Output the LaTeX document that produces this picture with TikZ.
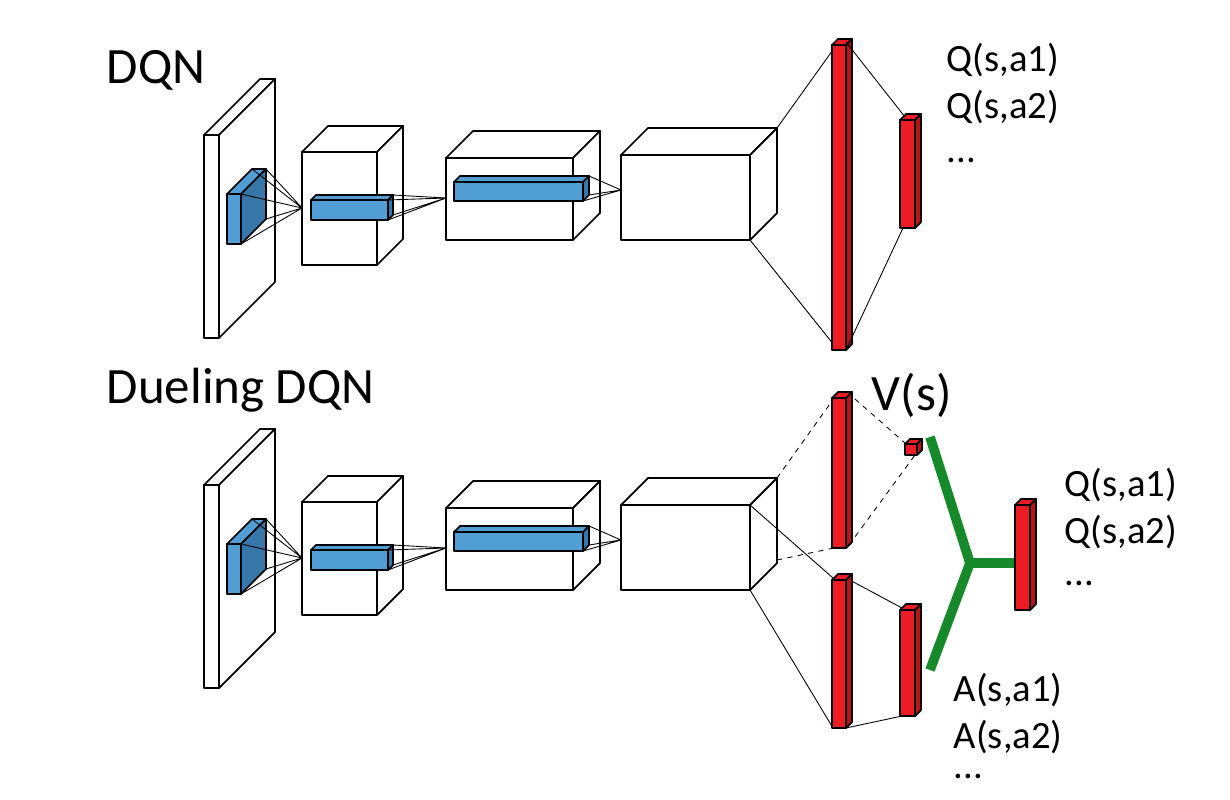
\documentclass[tikz,border=0pt]{standalone}
\usepackage{fontspec}
\setmainfont{Carlito}
\definecolor{bl}{RGB}{80,158,212}\definecolor{blD}{RGB}{55,118,168}
\definecolor{rd}{RGB}{236,28,36}\definecolor{rdD}{RGB}{185,20,26}
\definecolor{gr}{RGB}{22,138,42}
\newcommand\cub[7]{%
\filldraw[fill=#6] (#1,#2) rectangle ++(#3,#4);
\filldraw[fill=#6] (#1,#2)--++(#5,-#5)--++(#3,0)--++(-#5,#5)--cycle;
\filldraw[fill=#7] ({#1+#3},#2)--++(#5,-#5)--++(0,#4)--++(-#5,#5)--cycle;}
\begin{document}
\begin{tikzpicture}[x=0.02cm,y=-0.02cm,line width=1pt,line join=round,
 thin/.style={line width=0.5pt},
 lbl/.style={anchor=west,inner sep=0,font=\fontsize{22}{26}\selectfont},
 big/.style={anchor=west,inner sep=0,font=\fontsize{29}{34}\selectfont},
 gl/.style={gr,line width=5.5pt}]
\useasboundingbox (0,0) rectangle (1230,800);
\foreach \s in {0,350}{
\begin{scope}[yshift=-\s*0.02cm]
\cub{204}{135}{15}{203}{56}{white}{white}
\cub{302}{152}{75}{113}{26}{white}{white}
\cub{446}{158}{127}{82}{27}{white}{white}
\cub{621}{155}{129}{85}{27}{white}{white}
\cub{227}{194}{14}{50}{25}{bl}{blD}
\draw[thin] (252,169)--(302,208) (266,169)--(302,208) (266,219)--(302,208) (241,244)--(302,208) (241,194)--(302,208);
\cub{311}{200}{77}{20}{5}{bl}{blD}
\draw[thin] (393,195)--(446,198) (393,215)--(446,198) (388,220)--(446,198) (388,200)--(446,198);
\cub{454}{182}{129}{19}{6}{bl}{blD}
\draw[thin] (589,176)--(621,190) (589,195)--(621,190) (583,201)--(621,190);
\end{scope}}
% top head
\draw[thin] (777,128)--(840,40) (750,240)--(838,350);
\cub{832}{45}{14}{305}{6}{rd}{rdD}
\cub{900}{120}{15}{108}{6}{rd}{rdD}
\draw[thin] (846,42)--(905,117) (846,350)--(903,228);
% bottom head
\draw[thin,dashed] (777,478)--(837,394) (777,560)--(848,545) (847,392)--(905,443) (849,545)--(915,455);
\draw[thin] (750,505)--(833,578) (750,590)--(833,728) (846,578)--(902,608) (846,728)--(902,716);
\cub{832}{398}{14}{150}{6}{rd}{rdD}
\cub{905}{444}{12}{11}{5}{rd}{rdD}
\cub{832}{580}{14}{148}{6}{rd}{rdD}
\cub{900}{610}{15}{106}{6}{rd}{rdD}
\draw[gl,line join=miter] (930,437)--(970,563)--(930,670);
\draw[gl] (970,563)--(1016,563);
\cub{1015}{505}{15}{105}{6}{rd}{rdD}
% labels
\node[big] at (106,70) {DQN};
\node[big] at (106,390) {Dueling DQN};
\node[big] at (871,395) {V(s)};
\node[lbl] at (946,60) {Q(s,a1)};
\node[lbl] at (946,107) {Q(s,a2)};
\node[lbl] at (946,160) {...};
\node[lbl] at (1064,485) {Q(s,a1)};
\node[lbl] at (1064,532) {Q(s,a2)};
\node[lbl] at (1064,583) {...};
\node[lbl] at (953,690) {A(s,a1)};
\node[lbl] at (953,737) {A(s,a2)};
\node[lbl] at (953,776) {...};
\end{tikzpicture}
\end{document}
